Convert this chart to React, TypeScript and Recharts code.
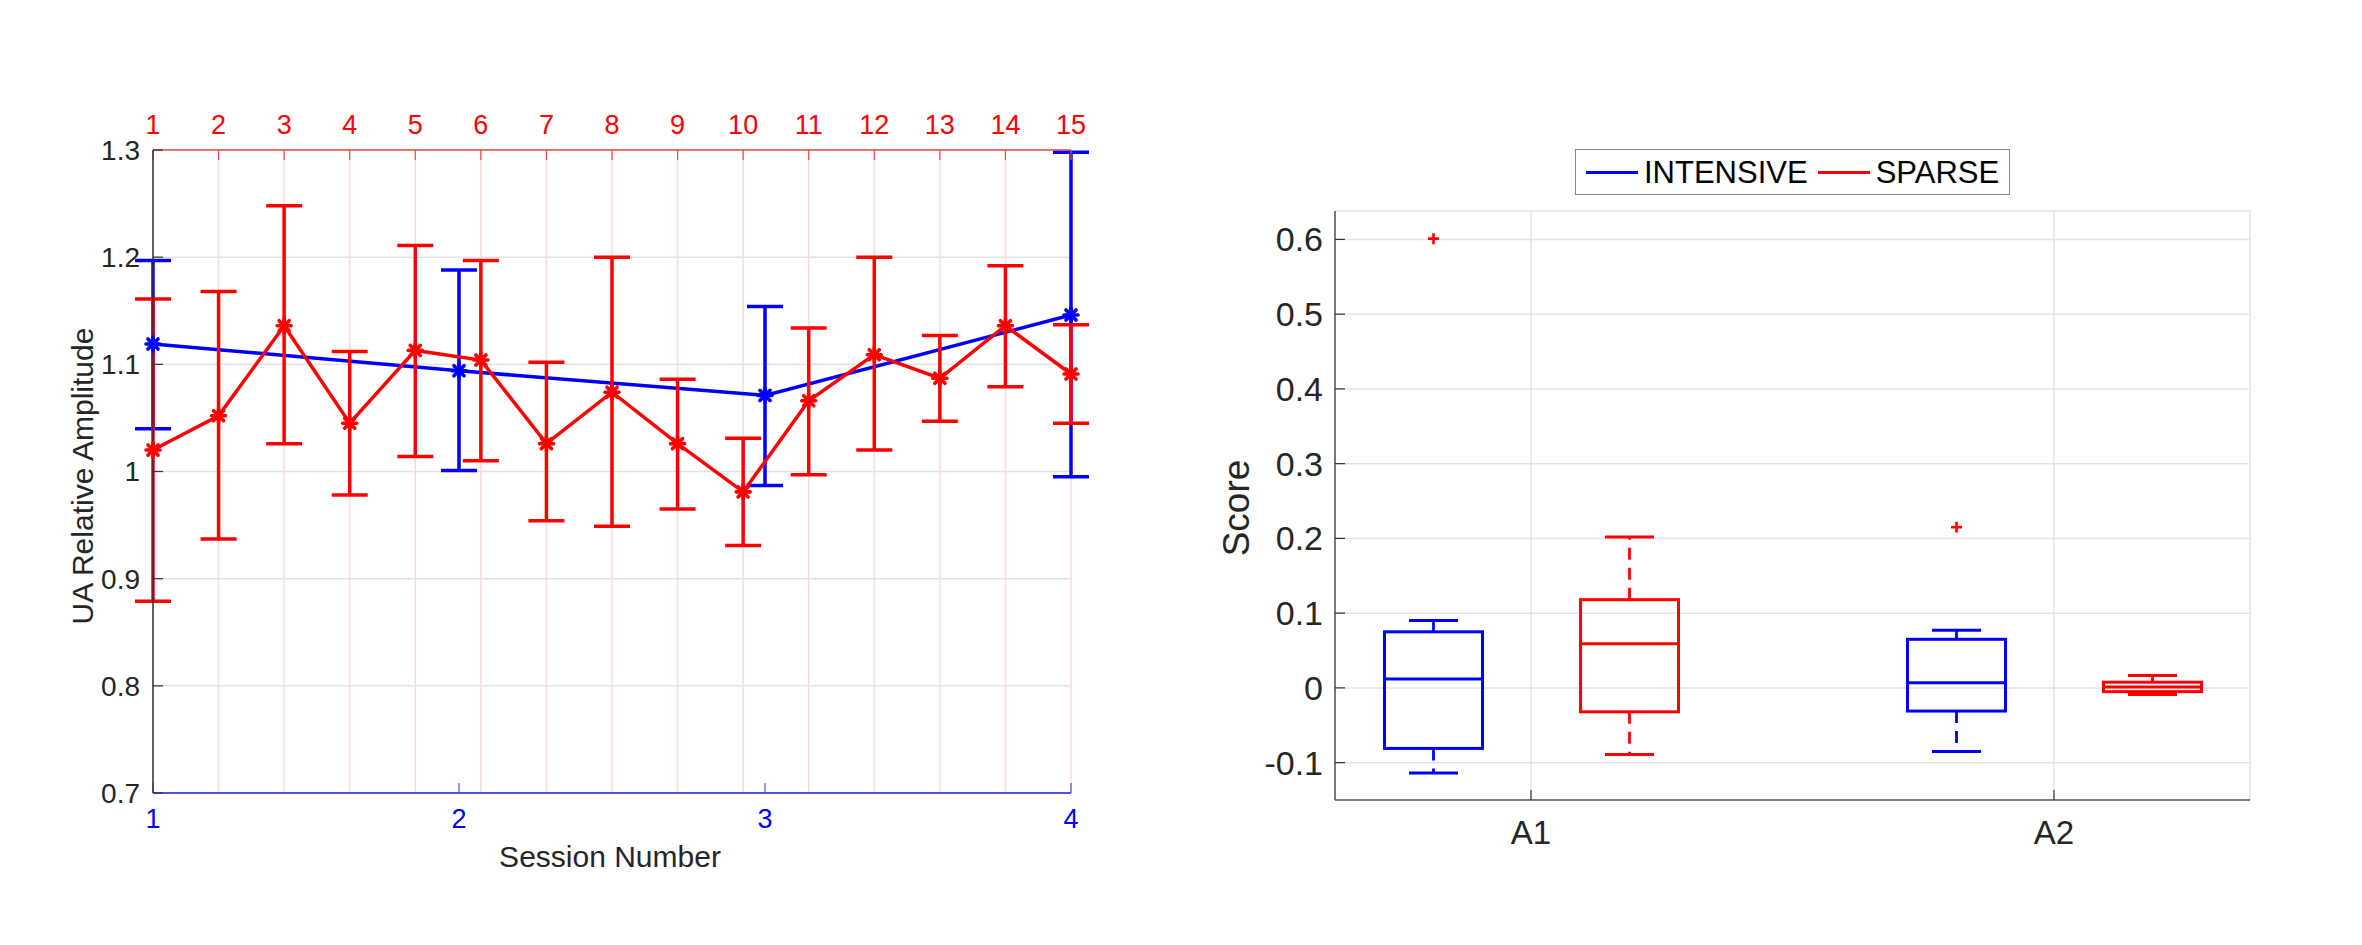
import React from 'react'
import {
  ComposedChart,
  Line,
  Bar,
  ErrorBar,
  XAxis,
  YAxis,
  CartesianGrid,
} from 'recharts'

const FONT = '"Liberation Sans", Arial, Helvetica, sans-serif'
const BLUE = '#0000ff'
const RED = '#ff0000'
const INK = '#262626'

// left panel: session means (blue, bottom axis) and block means (red, top axis)
const sessionNumbers = [1, 2, 3, 4]
const intensiveMean = [1.119, 1.094, 1.071, 1.146]
const intensiveLow = [1.04, 1.001, 0.987, 0.995]
const intensiveHigh = [1.197, 1.188, 1.154, 1.298]

const blockNumbers = [1, 2, 3, 4, 5, 6, 7, 8, 9, 10, 11, 12, 13, 14, 15]
const sparseMean = [1.02, 1.052, 1.136, 1.045, 1.113, 1.104, 1.026, 1.074, 1.026, 0.981, 1.066, 1.109, 1.087, 1.136, 1.091]
const sparseLow = [0.879, 0.937, 1.026, 0.978, 1.014, 1.01, 0.954, 0.949, 0.965, 0.931, 0.997, 1.02, 1.047, 1.079, 1.045]
const sparseHigh = [1.161, 1.168, 1.248, 1.112, 1.211, 1.197, 1.102, 1.2, 1.086, 1.031, 1.134, 1.2, 1.127, 1.192, 1.137]

const amplitudeTicks = [0.7, 0.8, 0.9, 1.0, 1.1, 1.2, 1.3]

// right panel: box plot stats per group
const groups = ['A1', 'A2']
const seriesNames = ['INTENSIVE', 'SPARSE']
const seriesColors = [BLUE, RED]

const intensiveMin = [-0.114, -0.085]
const intensiveQ1 = [-0.081, -0.031]
const intensiveMedian = [0.012, 0.007]
const intensiveQ3 = [0.075, 0.065]
const intensiveMax = [0.09, 0.077]
const intensiveOutliers = [[0.601], [0.215]]

const sparseMin = [-0.089, -0.009]
const sparseQ1 = [-0.032, -0.005]
const sparseMedian = [0.059, 0.0013]
const sparseQ3 = [0.118, 0.0076]
const sparseMax = [0.202, 0.0164]
const sparseOutliers: number[][] = [[], []]

const scoreTicks = [-0.1, 0, 0.1, 0.2, 0.3, 0.4, 0.5, 0.6]

const intensiveRows = sessionNumbers.map((x, i) => ({
  x,
  mean: intensiveMean[i],
  err: [intensiveMean[i] - intensiveLow[i], intensiveHigh[i] - intensiveMean[i]],
}))

const sparseRows = blockNumbers.map((x, i) => ({
  x,
  mean: sparseMean[i],
  err: [sparseMean[i] - sparseLow[i], sparseHigh[i] - sparseMean[i]],
}))

const boxRows = groups.map((group, i) => ({
  group,
  intensiveBox: [intensiveQ1[i], intensiveQ3[i]],
  sparseBox: [sparseQ1[i], sparseQ3[i]],
  intensive: {
    min: intensiveMin[i], q1: intensiveQ1[i], median: intensiveMedian[i],
    q3: intensiveQ3[i], max: intensiveMax[i], outliers: intensiveOutliers[i],
  },
  sparse: {
    min: sparseMin[i], q1: sparseQ1[i], median: sparseMedian[i],
    q3: sparseQ3[i], max: sparseMax[i], outliers: sparseOutliers[i],
  },
}))

const fmt = (v: number) => String(Number(v.toFixed(2)))

// matlab-ish '*' marker
function Asterisk({ cx, cy, color }: { cx?: number; cy?: number; color: string }) {
  if (cx == null || cy == null) return null
  const r = 7
  const d = r * 0.72
  return (
    <g stroke={color} strokeWidth={3.6} strokeLinecap="round">
      <line x1={cx - r} y1={cy} x2={cx + r} y2={cy} />
      <line x1={cx} y1={cy - r} x2={cx} y2={cy + r} />
      <line x1={cx - d} y1={cy - d} x2={cx + d} y2={cy + d} />
      <line x1={cx - d} y1={cy + d} x2={cx + d} y2={cy - d} />
      <circle cx={cx} cy={cy} r={3.5} fill={color} stroke="none" />
    </g>
  )
}

const boxShape = (key: 'intensive' | 'sparse', color: string) => (props: any) => {
  const { x, y, width, height, payload } = props
  const s = payload[key]
  const top = Math.min(y, y + height)
  const h = Math.abs(height)
  const k = h / (s.q3 - s.q1)
  const py = (v: number) => top + (s.q3 - v) * k
  const cx = x + width / 2
  const cap = width / 4
  return (
    <g key={`${key}-${payload.group}`}>
      <line x1={cx} y1={py(s.q3)} x2={cx} y2={py(s.max)} stroke={color} strokeWidth={2.8} strokeDasharray="12 8" />
      <line x1={cx} y1={py(s.q1)} x2={cx} y2={py(s.min)} stroke={color} strokeWidth={2.8} strokeDasharray="12 8" />
      <line x1={cx - cap} y1={py(s.max)} x2={cx + cap} y2={py(s.max)} stroke={color} strokeWidth={3} />
      <line x1={cx - cap} y1={py(s.min)} x2={cx + cap} y2={py(s.min)} stroke={color} strokeWidth={3} />
      <rect x={x} y={top} width={width} height={h} fill="none" stroke={color} strokeWidth={3} />
      <line x1={x} y1={py(s.median)} x2={x + width} y2={py(s.median)} stroke={color} strokeWidth={3} />
      {s.outliers.map((v: number, j: number) => (
        <g key={j} stroke={RED} strokeWidth={2.6}>
          <line x1={cx - 5.5} y1={py(v)} x2={cx + 5.5} y2={py(v)} />
          <line x1={cx} y1={py(v) - 5.5} x2={cx} y2={py(v) + 5.5} />
        </g>
      ))}
    </g>
  )
}

function AmplitudeChart() {
  return (
    <ComposedChart width={1180} height={945} margin={{ top: 110, right: 109, bottom: 112, left: 93 }}>
      <CartesianGrid xAxisId="top" yAxisId="left" horizontal={false} stroke="#fcd9d9" strokeWidth={1.5} />
      <CartesianGrid xAxisId="top" yAxisId="left" vertical={false} stroke="#e3e3e3" strokeWidth={1.5} />
      <XAxis
        xAxisId="top"
        orientation="top"
        type="number"
        dataKey="x"
        domain={[1, 15]}
        ticks={blockNumbers}
        interval={0}
        height={40}
        axisLine={{ stroke: '#f04848', strokeWidth: 1.5 }}
        tickLine={{ stroke: '#f04848', strokeWidth: 1.2 }}
        tickSize={-10}
        tickMargin={26}
        tick={{ fill: RED, fontSize: 27, fontFamily: FONT }}
      />
      <XAxis
        xAxisId="bottom"
        orientation="bottom"
        type="number"
        dataKey="x"
        domain={[1, 4]}
        ticks={sessionNumbers}
        interval={0}
        height={40}
        axisLine={{ stroke: '#4f4fe0', strokeWidth: 2 }}
        tickLine={{ stroke: '#4f4fe0', strokeWidth: 1.2 }}
        tickSize={-10}
        tickMargin={26}
        tick={{ fill: BLUE, fontSize: 27, fontFamily: FONT }}
      />
      <YAxis
        yAxisId="left"
        type="number"
        domain={[0.7, 1.3]}
        ticks={amplitudeTicks}
        interval={0}
        width={60}
        tickFormatter={fmt}
        axisLine={{ stroke: '#333333', strokeWidth: 1.5 }}
        tickLine={{ stroke: '#333333', strokeWidth: 1.2 }}
        tickSize={-10}
        tickMargin={23}
        tick={{ fill: INK, fontSize: 28, fontFamily: FONT }}
      />
      <YAxis
        yAxisId="right"
        orientation="right"
        type="number"
        domain={[0.7, 1.3]}
        ticks={amplitudeTicks}
        width={0}
        tickFormatter={() => ''}
        tickLine={false}
        axisLine={{ stroke: '#8c8c8c', strokeWidth: 1.5 }}
      />
      <Line
        xAxisId="bottom"
        yAxisId="left"
        data={intensiveRows}
        dataKey="mean"
        name="INTENSIVE"
        stroke={BLUE}
        strokeWidth={3.5}
        dot={(p: any) => <Asterisk key={`i${p.index}`} cx={p.cx} cy={p.cy} color={BLUE} />}
        activeDot={false}
        isAnimationActive={false}
      >
        <ErrorBar dataKey="err" direction="y" width={18} stroke={BLUE} strokeWidth={3.5} />
      </Line>
      <Line
        xAxisId="top"
        yAxisId="left"
        data={sparseRows}
        dataKey="mean"
        name="SPARSE"
        stroke={RED}
        strokeWidth={3.5}
        dot={(p: any) => <Asterisk key={`s${p.index}`} cx={p.cx} cy={p.cy} color={RED} />}
        activeDot={false}
        isAnimationActive={false}
      >
        <ErrorBar dataKey="err" direction="y" width={18} stroke={RED} strokeWidth={3.5} />
      </Line>
    </ComposedChart>
  )
}

function ScoreChart() {
  const pad = { left: -65.5, right: -65.5 }
  return (
    <ComposedChart
      width={1182}
      height={945}
      data={boxRows}
      barGap={98}
      margin={{ top: 211, right: 112, bottom: 85, left: 55 }}
    >
      <CartesianGrid xAxisId="bottom" yAxisId="left" stroke="#e4e4e4" strokeWidth={1.5} />
      <XAxis
        xAxisId="bottom"
        dataKey="group"
        type="category"
        padding={pad}
        interval={0}
        height={60}
        axisLine={{ stroke: '#555555', strokeWidth: 1.5 }}
        tickLine={{ stroke: '#333333', strokeWidth: 1.2 }}
        tickSize={-10}
        tickMargin={31}
        tick={{ fill: INK, fontSize: 33, fontFamily: FONT }}
      />
      <XAxis
        xAxisId="top"
        orientation="top"
        dataKey="group"
        type="category"
        padding={pad}
        interval={0}
        height={0}
        tickFormatter={() => ''}
        axisLine={{ stroke: '#555555', strokeWidth: 1.5 }}
        tickLine={{ stroke: '#333333', strokeWidth: 1.2 }}
        tickSize={-9}
      />
      <YAxis
        yAxisId="left"
        type="number"
        domain={[-0.15, 0.638]}
        allowDataOverflow
        ticks={scoreTicks}
        interval={0}
        width={100}
        tickFormatter={fmt}
        axisLine={{ stroke: '#555555', strokeWidth: 1.5 }}
        tickLine={{ stroke: '#333333', strokeWidth: 1.2 }}
        tickSize={-10}
        tickMargin={22}
        tick={{ fill: INK, fontSize: 34, fontFamily: FONT }}
      />
      <YAxis
        yAxisId="right"
        orientation="right"
        type="number"
        domain={[-0.15, 0.638]}
        allowDataOverflow
        ticks={scoreTicks}
        interval={0}
        width={0}
        tickFormatter={() => ''}
        axisLine={{ stroke: '#555555', strokeWidth: 1.5 }}
        tickLine={{ stroke: '#333333', strokeWidth: 1.2 }}
        tickSize={-10}
      />
      <Bar
        xAxisId="bottom"
        yAxisId="left"
        dataKey="intensiveBox"
        name={seriesNames[0]}
        fill={seriesColors[0]}
        barSize={98}
        shape={boxShape('intensive', seriesColors[0])}
        activeBar={false}
        isAnimationActive={false}
      />
      <Bar
        xAxisId="bottom"
        yAxisId="left"
        dataKey="sparseBox"
        name={seriesNames[1]}
        fill={seriesColors[1]}
        barSize={98}
        shape={boxShape('sparse', seriesColors[1])}
        activeBar={false}
        isAnimationActive={false}
      />
    </ComposedChart>
  )
}

const labelStyle = (x: number, y: number, size: number, rotate = 0): React.CSSProperties => ({
  position: 'absolute',
  left: x,
  top: y,
  transform: `translate(-50%, -50%) rotate(${rotate}deg)`,
  fontFamily: FONT,
  fontSize: size,
  color: INK,
  whiteSpace: 'nowrap',
  lineHeight: 1,
})

export default function App() {
  return (
    <div style={{ position: 'absolute', left: 0, top: 0, width: 2362, height: 945, background: '#fff', overflow: 'hidden' }}>
      <div style={{ position: 'absolute', left: 0, top: 0 }}>
        <AmplitudeChart />
      </div>
      <div style={{ position: 'absolute', left: 1180, top: 0 }}>
        <ScoreChart />
      </div>

      <div style={labelStyle(83, 476, 30, -90)}>UA Relative Amplitude</div>
      <div style={labelStyle(610, 857, 30)}>Session Number</div>
      <div style={labelStyle(1236, 508, 37, -90)}>Score</div>

      <div
        style={{
          position: 'absolute',
          left: 1575,
          top: 149,
          width: 435,
          height: 46,
          boxSizing: 'border-box',
          border: '1.5px solid #8a8a8a',
          background: '#fff',
          display: 'flex',
          alignItems: 'center',
          paddingLeft: 10,
          fontFamily: FONT,
          fontSize: 31,
          color: '#000',
        }}
      >
        {seriesNames.map((name, i) => (
          <div key={name} style={{ display: 'flex', alignItems: 'center', marginRight: 10 }}>
            <div style={{ width: 52, height: 3, background: seriesColors[i], marginRight: 6 }} />
            <span style={{ lineHeight: 1 }}>{name}</span>
          </div>
        ))}
      </div>
    </div>
  )
}
